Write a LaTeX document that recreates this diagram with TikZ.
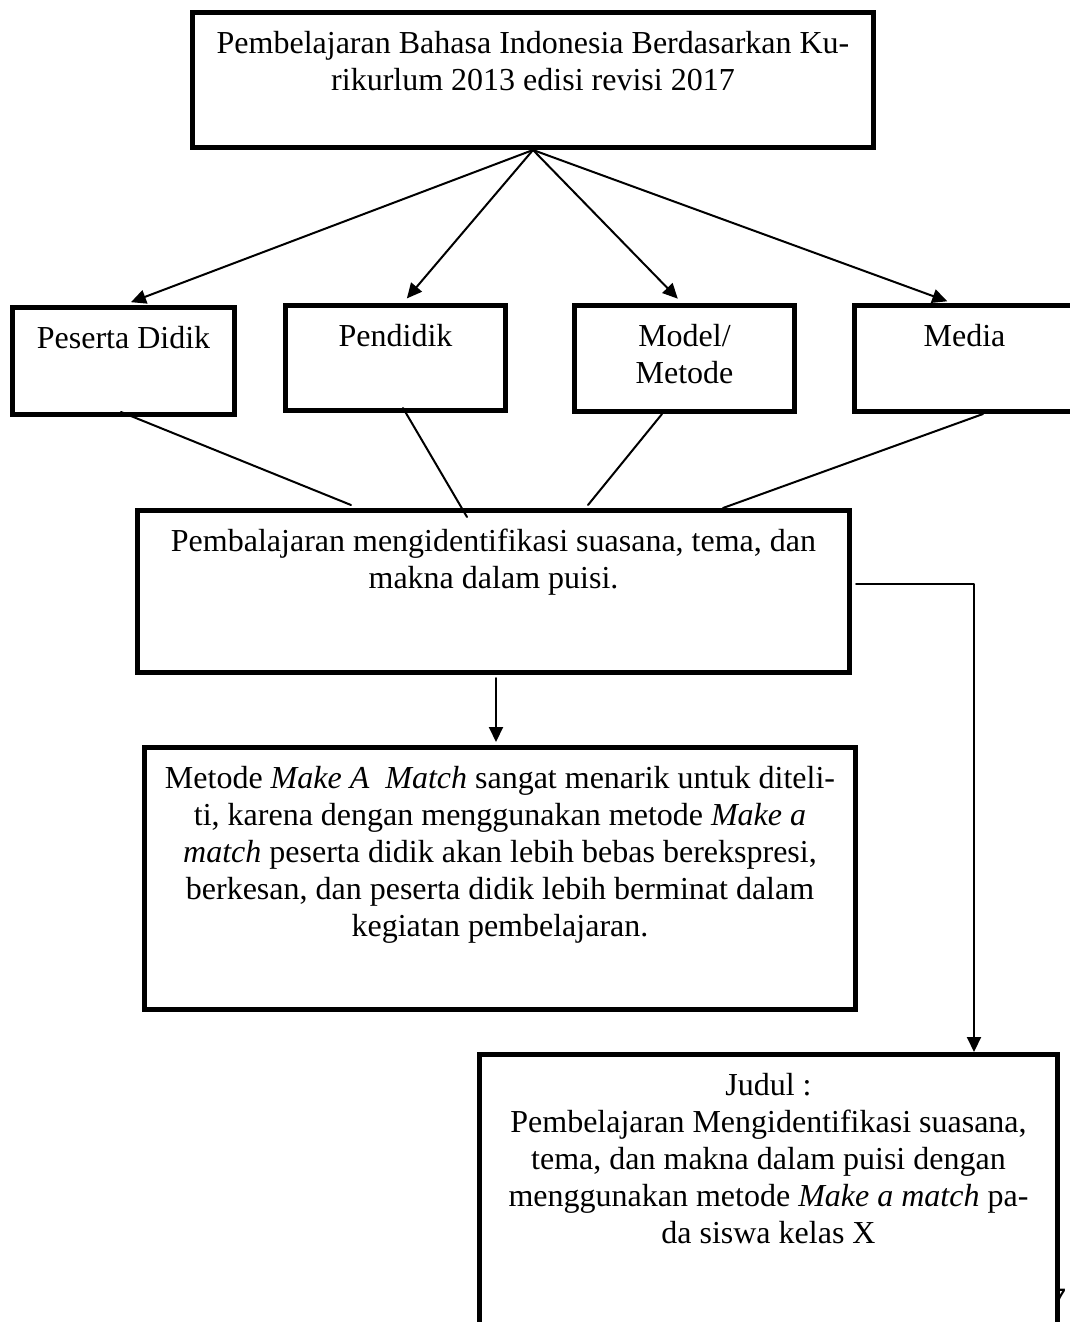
\documentclass[tikz,border=0pt]{standalone}
\usepackage{fontspec}
\setmainfont{Liberation Serif}
\newfontfamily\pagenumfont{Liberation Sans}
\usetikzlibrary{arrows.meta}

\begin{document}
\begin{tikzpicture}[line cap=round,line join=round,>={Triangle[length=7.5pt,width=7pt]},x=0.5pt,y=-0.5pt,
  box/.style={draw,line width=2.5pt,fill=white,inner sep=0pt,line cap=butt,line join=miter},
  txt/.style={anchor=north,align=center,inner sep=0pt,yshift=-10.5pt,font=\fontsize{16}{18.5}\selectfont},
  con/.style={line width=1pt}]
\useasboundingbox[fill=white] (0,0) rectangle (1070,1322);
% kotak
\node[box,minimum width=340.5pt,minimum height=67.5pt] (top) at (533,80) {};
\node[box,minimum width=111pt,minimum height=53.5pt] (pd) at (123.5,361) {};
\node[box,minimum width=110pt,minimum height=52.5pt] (pk) at (395.5,358) {};
\node[box,minimum width=110pt,minimum height=53pt] (mm) at (684.5,358.5) {};
\node[box,minimum width=110pt,minimum height=53pt] (md) at (964.5,358.5) {};
\node[box,minimum width=356pt,minimum height=81pt] (mid) at (493.5,591.5) {};
\node[box,minimum width=355.5pt,minimum height=131pt] (mt) at (500,878.5) {};
\node[anchor=base west,inner sep=0pt,font=\pagenumfont\fontsize{15.5}{18}\selectfont] (pgnum) at (1049,1310) {7};
\node[box,minimum width=289pt,minimum height=141.5pt] (jd) at (768.5,1196) {};
% teks
\node[txt] (topt) at (top.north) {Pembelajaran Bahasa Indonesia Berdasarkan Ku-\\rikurlum 2013 edisi revisi 2017};
\node[txt] (pdt) at (pd.north) {Peserta Didik};
\node[txt] (pkt) at (pk.north) {Pendidik};
\node[txt] (mmt) at (mm.north) {Model/\\Metode};
\node[txt] (mdt) at (md.north) {Media};
\node[txt] (midt) at (mid.north) {Pembalajaran mengidentifikasi suasana, tema, dan\\makna dalam puisi.};
\node[txt] (mtt) at (mt.north) {Metode \textit{Make A\ \ Match} sangat menarik untuk diteli-\\ti, karena dengan menggunakan metode \textit{Make a}\\\textit{match} peserta didik akan lebih bebas berekspresi,\\berkesan, dan peserta didik lebih berminat dalam\\kegiatan pembelajaran.};
\node[txt] (jdt) at (jd.north) {Judul :\\Pembelajaran Mengidentifikasi suasana,\\tema, dan makna dalam puisi dengan\\menggunakan metode \textit{Make a match} pa-\\da siswa kelas X};
% panah
\draw[con,->,shorten >=4pt] (top.south) -- (pd.north);
\draw[con,->,shorten >=3pt] (top.south) -- ([xshift=3.75pt]pk.north);
\draw[con,->,shorten >=3pt] (top.south) -- ([xshift=-1.25pt]mm.north);
\draw[con,->,shorten >=2.5pt] (top.south) -- ([xshift=-6.25pt]md.north);
\draw[con] ([xshift=-1.25pt,yshift=2.5pt]pd.south) -- ([xshift=-71.25pt,yshift=1.5pt]mid.north);
\draw[con] ([xshift=3.75pt,yshift=2.5pt]pk.south) -- ([xshift=-13.25pt,yshift=-4.5pt]mid.north);
\draw[con] ([xshift=-11.25pt]mm.south) -- ([xshift=47.25pt,yshift=1.5pt]mid.north);
\draw[con] ([xshift=9.25pt]md.south) -- ([xshift=114.75pt]mid.north);
\draw[con,->,shorten <=1.5pt,shorten >=1.5pt] ([xshift=1.25pt]mid.south) -- ([xshift=1.25pt]mid.south |- mt.north);
\draw[con,->,shorten <=2pt] ([yshift=3.75pt]mid.east) -| ([xshift=102.75pt]jd.north);
\end{tikzpicture}
\end{document}
